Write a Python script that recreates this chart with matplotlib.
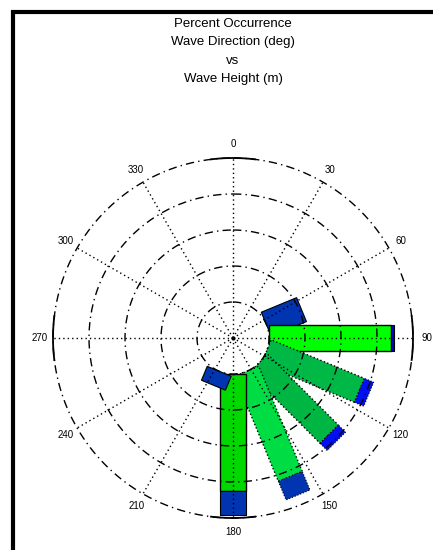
import numpy as np
import matplotlib
matplotlib.use('Agg')
import matplotlib.pyplot as plt
from matplotlib.patches import Polygon
from matplotlib.lines import Line2D

# percent occurrence per direction bin (deg, compass) split by wave height class
directions = [67.5, 90.0, 112.5, 135.0, 157.5, 180.0, 202.5]
pct_low = [0.0, 16.9, 14.0, 13.9, 15.8, 16.3, 0.0]
pct_high = [5.3, 0.4, 1.4, 1.4, 2.8, 3.3, 2.1]
ring_step = 5.0
n_rings = 4
spoke_angles = list(range(0, 360, 30))
spoke_labels = [str(a) for a in spoke_angles]
title_lines = ['Percent Occurrence', 'Wave Direction (deg)', 'vs', 'Wave Height (m)']

# styles
low_colors = ['#00d800', '#00ff00', '#00b845', '#00b642', '#00dd44', '#00d800', '#00d800']
high_colors = ['#0034b0', '#0000c8', '#0010f0', '#0010f0', '#0034b0', '#0034b0', '#0034b0']
edge_styles = ['-', '-', ':', ':', ':', '-', '-']
hub = ring_step          # empty centre
bar_w = 3.6

plt.rcParams['font.family'] = ['Liberation Sans', 'DejaVu Sans']

fig = plt.figure(figsize=(4.33, 5.5), dpi=100)
px = 7.2  # pixels per data unit
cx, cy = 233, 338
ax = fig.add_axes([20 / 433, 4 / 550, 410 / 433, 416 / 550])
ax.set_xlim((20 - cx) / px, (430 - cx) / px)
ax.set_ylim(-(546 - cy) / px, (cy - 130) / px)
ax.axis('off')

def bar_poly(theta, r0, r1, w):
    t = np.radians(theta)
    u = np.array([np.sin(t), np.cos(t)])
    p = np.array([np.cos(t), -np.sin(t)])
    return [r0 * u + w / 2 * p, r1 * u + w / 2 * p, r1 * u - w / 2 * p, r0 * u - w / 2 * p]

#bars first, grid on top
for i, d in enumerate(directions):
    r0 = hub
    r1 = hub + pct_low[i]
    r2 = r1 + pct_high[i]
    if pct_low[i] > 0:
        ax.add_patch(Polygon(bar_poly(d, r0, r1, bar_w), closed=True, facecolor=low_colors[i],
                             edgecolor='black', lw=1.0, linestyle=edge_styles[i], zorder=2 + i * 0.1))
    ax.add_patch(Polygon(bar_poly(d, r1, r2, bar_w), closed=True, facecolor=high_colors[i],
                         edgecolor='black', lw=0.8, linestyle=edge_styles[i], zorder=2 + i * 0.1))

#rings
R = hub + n_rings * ring_step
tt = np.linspace(0, 2 * np.pi, 400)
for k in range(n_rings + 1):
    r = hub + k * ring_step
    ax.plot(r * np.sin(tt), r * np.cos(tt), color='black', lw=1.0,
            linestyle=(0, (6, 3, 1, 3)), zorder=5)

#spokes
for a in spoke_angles:
    t = np.radians(a)
    ax.plot([0, R * np.sin(t)], [0, R * np.cos(t)], color='black', lw=1.0,
            linestyle=(0, (1, 2.2)), zorder=5)
ax.plot(0, 0, 'o', color='black', ms=2, zorder=6)

#solid ticks on outer ring at cardinal points
for a in [0, 90, 180, 270]:
    ts = np.radians(np.linspace(a - 7, a + 7, 20))
    ax.plot(R * np.sin(ts), R * np.cos(ts), color='black', lw=1.3, zorder=6)

#direction labels
for a, lab in zip(spoke_angles, spoke_labels):
    t = np.radians(a)
    rl = R + 1.9
    ax.text(rl * np.sin(t), rl * np.cos(t), lab, ha='center', va='center', fontsize=7)

#title
for j, line in enumerate(title_lines):
    fig.text(cx / 433, 1 - (24 + j * 18.3) / 550, line, ha='center', va='center', fontsize=9.5)

#frame
fig.add_artist(Line2D([13 / 433, 13 / 433], [0, 1 - 10 / 550], color='black', lw=3,
                      transform=fig.transFigure, solid_capstyle='butt'))
fig.add_artist(Line2D([11 / 433, 1], [1 - 12 / 550, 1 - 12 / 550], color='black', lw=3,
                      transform=fig.transFigure, solid_capstyle='butt'))

plt.savefig('out.png', dpi=100)
